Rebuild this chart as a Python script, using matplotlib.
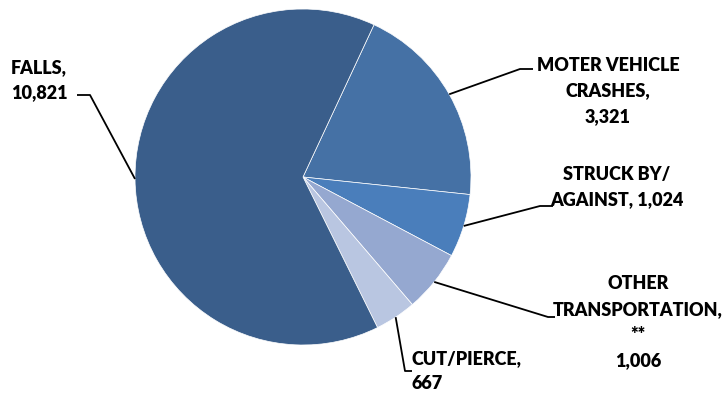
import numpy as np
import matplotlib.pyplot as plt

plt.rcParams['font.family'] = ['Lato', 'DejaVu Sans']

# injury counts by cause
causes = ["MOTER VEHICLE\nCRASHES,\n3,321", "STRUCK BY/\nAGAINST, 1,024",
          "OTHER\nTRANSPORTATION,\n**\n1,006", "CUT/PIERCE,\n667", "FALLS,\n10,821"]
counts = [3321, 1024, 1006, 667, 10821]
colors = ["#4571a5", "#4a7ebb", "#95a8d0", "#b9c6e1", "#3a5e8b"]

W, H = 726, 394
fig = plt.figure(figsize=(W / 100, H / 100), dpi=100)
ax = fig.add_axes([0, 0, 1, 1])

cx, cy, r = 303, H - 177, 168
wedges, _ = ax.pie(counts, colors=colors, startangle=65, counterclock=False,
                   center=(cx, cy), radius=r,
                   wedgeprops=dict(edgecolor="white", linewidth=0.5))
ax.set_xlim(0, W)
ax.set_ylim(0, H)
ax.set_aspect("equal")
ax.axis("off")

# label layout: elbow point, end of the short horizontal tick, text anchor, alignment
layout = [
    ((520, 69), (533, 69), (608, 91), "center"),
    ((540, 206), (553, 206), (617, 187), "center"),
    ((548, 317), (555, 317), (638, 322), "center"),
    ((405, 371), (412, 371), (412, 371), "left"),
    ((90, 95), (77, 95), (11, 80), "left"),
]

for w, label, (elbow, tick, txt, ha) in zip(wedges, causes, layout):
    mid = np.deg2rad((w.theta1 + w.theta2) / 2)
    px, py = cx + r * np.cos(mid), cy + r * np.sin(mid)
    ax.plot([px, elbow[0], tick[0]], [py, H - elbow[1], H - tick[1]],
            color="black", lw=1.3, solid_capstyle="butt")
    ax.text(txt[0], H - txt[1], label, ha=ha, va="center", fontsize=13,
            fontweight="heavy", linespacing=1.62, color="black")

fig.savefig("out.png", dpi=100)
